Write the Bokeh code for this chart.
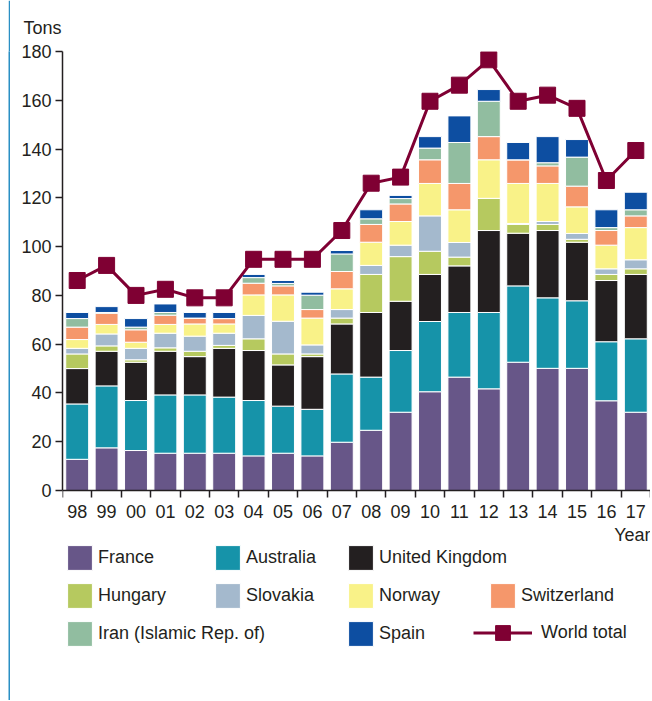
from bokeh.plotting import figure
from bokeh.layouts import row
from bokeh.models import (ColumnDataSource, Range1d, FixedTicker, Spacer,
                          Legend, LegendItem, Label)
from bokeh.embed import file_html
from bokeh.resources import INLINE

years = ["98", "99", "00", "01", "02", "03", "04", "05", "06", "07",
         "08", "09", "10", "11", "12", "13", "14", "15", "16", "17"]
france = [12.8, 17.5, 16.4, 15.3, 15.3, 15.3, 14.2, 15.3, 14.2, 19.8,
          24.7, 32.1, 40.5, 46.5, 41.7, 52.6, 50.1, 50.1, 36.8, 32.1]
australia = [22.7, 25.4, 20.5, 23.9, 23.9, 23.0, 22.7, 19.3, 19.1, 28.0,
             21.8, 25.3, 28.8, 26.5, 31.3, 31.3, 28.9, 27.7, 24.2, 30.1]
united_kingdom = [14.5, 14.2, 15.7, 17.9, 15.7, 20.0, 20.5, 16.9, 21.6, 20.5,
                  26.5, 20.2, 19.3, 19.1, 33.6, 21.6, 27.6, 24.0, 25.1, 26.4]
hungary = [6.0, 2.2, 1.0, 1.4, 2.2, 1.2, 4.8, 4.5, 1.1, 2.4,
           15.6, 18.3, 9.5, 3.6, 13.2, 3.6, 2.5, 1.2, 2.5, 2.3]
slovakia = [2.3, 4.9, 4.7, 6.0, 6.2, 5.0, 9.6, 13.4, 3.7, 3.5,
            3.7, 4.7, 14.5, 6.0, 0.0, 0.4, 1.2, 2.4, 2.3, 3.7]
norway = [3.6, 3.9, 2.5, 3.6, 5.0, 3.8, 8.4, 10.8, 11.0, 8.5,
          9.5, 9.7, 13.3, 13.4, 15.8, 16.4, 15.6, 10.9, 9.7, 13.2]
switzerland = [5.1, 4.6, 5.1, 3.8, 2.4, 2.2, 4.8, 3.7, 3.5, 7.1,
               7.3, 7.2, 9.7, 10.8, 9.5, 9.7, 7.2, 8.5, 6.0, 4.8]
iran = [3.5, 0.3, 1.1, 1.1, 0.0, 0.0, 2.3, 1.0, 5.9, 7.2,
        2.3, 2.2, 4.8, 16.8, 14.5, 0.0, 1.3, 11.9, 1.2, 2.5]
spain = [2.5, 2.4, 3.5, 3.5, 2.3, 2.5, 1.3, 1.2, 1.2, 1.4,
         3.7, 1.3, 4.7, 10.9, 4.8, 7.1, 10.7, 7.2, 7.3, 7.2]
world_total = [86.1, 92.3, 80.0, 82.5, 79.0, 79.0, 94.8, 94.8, 94.8, 106.6,
               126.0, 128.5, 159.6, 166.2, 176.6, 159.6, 162.1, 156.7, 127.1, 139.4]

series_labels = ["France", "Australia", "United Kingdom", "Hungary", "Slovakia",
                 "Norway", "Switzerland", "Iran (Islamic Rep. of)", "Spain"]
series_keys = ["france", "australia", "united_kingdom", "hungary", "slovakia",
               "norway", "switzerland", "iran", "spain"]
series_colors = ["#675688", "#1693a9", "#231f20", "#b6c95f", "#a4b9cd",
                 "#f9f288", "#f5976b", "#91bda0", "#0d4ea1"]
world_color = "#7f0033"
y_ticks = [0, 20, 40, 60, 80, 100, 120, 140, 160, 180]
y_max = 180

FONT = "Liberation Sans"
TXT = "#231f20"

n = len(years)
xs = list(range(1, n + 1))
source = ColumnDataSource(dict(
    x=xs, france=france, australia=australia, united_kingdom=united_kingdom,
    hungary=hungary, slovakia=slovakia, norway=norway, switzerland=switzerland,
    iran=iran, spain=spain, world=world_total))

# frame extends below zero to make room for the legend inside it
p = figure(frame_width=588, frame_height=600, x_range=Range1d(0.5, n + 0.5),
           y_range=Range1d(-66, y_max), output_backend="svg",
           toolbar_location=None, min_border_left=52, min_border_right=0,
           min_border_top=51, min_border_bottom=0, title="Tons")
p.grid.grid_line_color = None
p.outline_line_color = None
p.title.align = "left"
p.title.offset = -39
p.title.text_font = FONT
p.title.text_font_size = "18px"
p.title.text_font_style = "normal"
p.title.text_color = TXT
p.title.standoff = 28

ya = p.yaxis[0]
ya.ticker = FixedTicker(ticks=y_ticks)
ya.bounds = (0, y_max)
ya.major_label_text_font = FONT
ya.major_label_text_font_size = "18px"
ya.major_label_text_color = TXT
ya.axis_line_color = TXT
ya.axis_line_width = 1.5
ya.major_tick_line_color = TXT
ya.major_tick_line_width = 1.5
ya.major_tick_out = 7
ya.major_tick_in = 0
ya.minor_tick_out = 0
ya.minor_tick_in = 0
ya.major_label_standoff = 4

xa = p.xaxis[0]
xa.fixed_location = 0
xa.ticker = FixedTicker(ticks=xs, minor_ticks=[i + 0.5 for i in range(n + 1)])
xa.major_label_overrides = {x: y for x, y in zip(xs, years)}
xa.major_tick_out = 0
xa.major_tick_in = 0
xa.major_tick_line_color = None
xa.minor_tick_out = 7
xa.minor_tick_in = 0
xa.minor_tick_line_color = TXT
xa.minor_tick_line_width = 1.5
xa.axis_line_color = TXT
xa.axis_line_width = 1.5
xa.major_label_standoff = 7
xa.major_label_text_font = FONT
xa.major_label_text_font_size = "18px"
xa.major_label_text_color = TXT

bars = p.vbar_stack(series_keys, x="x", width=0.78, color=series_colors,
                    line_color="white", line_width=1, source=source)
wl = p.line(x="x", y="world", source=source, line_color=world_color, line_width=3)
ws = p.scatter(x="x", y="world", source=source, marker="square", size=16,
               fill_color=world_color, line_color=world_color)

common = dict(orientation="vertical", glyph_width=31, glyph_height=31,
              label_standoff=3, spacing=7, padding=0, margin=0,
              border_line_color=None, background_fill_alpha=0,
              label_text_font=FONT, label_text_font_size="18px",
              label_text_color=TXT, label_height=31)

def item(i):
    return LegendItem(label=series_labels[i], renderers=[bars[i]])

p.add_layout(Legend(items=[item(0), item(3), item(7)], location=(2, 2), **common), "center")
p.add_layout(Legend(items=[item(1), item(4)], location=(150, 40), **common), "center")
p.add_layout(Legend(items=[item(2), item(5), item(8)], location=(283, 2), **common), "center")
p.add_layout(Legend(items=[item(6)], location=(425, 40), **common), "center")
wcommon = dict(common)
wcommon.update(glyph_width=59, glyph_height=37, label_height=37, label_standoff=9)
p.add_layout(Legend(items=[LegendItem(label="World total", renderers=[wl, ws])],
                    location=(411, 0), **wcommon), "center")
p.add_layout(Label(x=588, y=117, x_units="screen", y_units="screen", text="Year",
                   text_font=FONT, text_font_size="18px", text_color=TXT,
                   text_align="right", text_baseline="middle"))

# blue rule on the left edge
rule = figure(width=2, height=700, output_backend="svg", toolbar_location=None,
              x_axis_location=None, y_axis_location=None,
              min_border_left=0, min_border_right=0, min_border_top=0,
              min_border_bottom=0, background_fill_color="#2a8fc4",
              border_fill_color="#2a8fc4")
rule.grid.grid_line_color = None
rule.outline_line_color = None

layout = row(Spacer(width=8, height=1), rule, p, spacing=0)
open("out.html", "w").write(file_html(layout, INLINE))
